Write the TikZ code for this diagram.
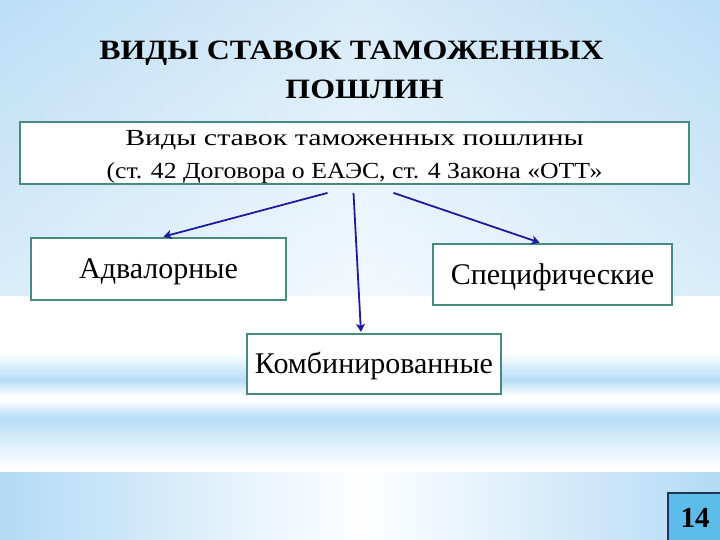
\documentclass[tikz,border=0pt]{standalone}
\usepackage{fontspec}
\setmainfont{Liberation Serif}
\newfontfamily\titlefont[FakeStretch=1.14]{Liberation Serif}
\newfontfamily\headfont[FakeStretch=1.30]{Liberation Serif}
\newfontfamily\subfont[FakeStretch=1.12]{Liberation Serif}
\usetikzlibrary{arrows.meta, positioning}

\definecolor{bgtop}{HTML}{C3E1F6}
\definecolor{bgmid}{HTML}{EEF7FD}
\definecolor{bgside}{HTML}{B3DAF5}
\definecolor{bandblue}{HTML}{B7DDF6}
\definecolor{boxline}{HTML}{468A80}
\definecolor{arrowblue}{HTML}{1C1C9C}
\definecolor{numfill}{HTML}{5CBCE9}
\definecolor{numline}{HTML}{1F3550}

\begin{document}
\begin{tikzpicture}[
  x=1pt, y=-1pt,
  >=Latex,
  box/.style={
    rectangle,
    draw=boxline, line width=1.8pt,
    fill=white,
    inner sep=0pt,
    align=center,
    font=\fontsize{30}{33}\selectfont
  },
  leaf/.style={box, text height=20pt, text depth=0pt},
  arrow/.style={draw=arrowblue, line width=1.8pt, shorten >=1pt,
    {-Stealth[length=8pt, width=9pt, inset=2pt]}}
]
\useasboundingbox (0,0) rectangle (720,540);

% Background
\shade[top color=bgtop, bottom color=bgmid] (0,0) rectangle (720,296);
\shade[left color=bgside, right color=bgside, middle color=white, opacity=0.35] (0,0) rectangle (720,296);
\fill[white] (0,296) rectangle (720,472);
\shade[top color=white, bottom color=bandblue] (0,352) rectangle (720,380);
\shade[top color=bandblue, bottom color=white] (0,380) rectangle (720,396);
\shade[top color=white, bottom color=bandblue] (0,400) rectangle (720,418);
\shade[top color=bandblue, bottom color=white] (0,418) rectangle (720,468);
\shade[left color=bgside, right color=bgside, middle color=white] (0,472) rectangle (720,540);

% Title
\node[align=center, font=\titlefont\bfseries\fontsize{28}{39}\selectfont] (title) at (358,70)
  {ВИДЫ СТАВОК ТАМОЖЕННЫХ\hspace*{13pt}\\\hspace*{13pt}ПОШЛИН};

% Boxes
\node[box, minimum width=669pt, minimum height=62pt,
  font=\fontsize{23}{33}\selectfont] (main) at (354.5,153) {%
\rule{0pt}{23.5pt}{\headfont Виды ставок таможенных пошлины}\\
{\subfont (ст. 42 Договора о ЕАЭС, ст. 4 Закона «ОТТ»}%
};

\node[leaf, minimum width=255pt, minimum height=62pt, below=52pt of main, xshift=-196pt] (adv) {Адвалорные};
\node[leaf, minimum width=239pt, minimum height=61pt, below=58pt of main, xshift=198pt] (spec) {Специфические};
\node[leaf, minimum width=254pt, minimum height=60pt, below=148pt of main, xshift=19.5pt] (komb) {Комбинированные};

% Page number
\node[rectangle, draw=numline, line width=2pt, fill=numfill, minimum width=54pt,
  minimum height=50pt, font=\bfseries\fontsize{29}{30}\selectfont] (pagenum) at (695,518) {14};

% Arrows
\coordinate (fromA) at ([xshift=-27pt, yshift=-8pt]main.south);
\coordinate (fromK) at ([xshift=-1pt, yshift=-8pt]main.south);
\coordinate (fromS) at ([xshift=39pt, yshift=-8pt]main.south);
\draw[arrow] (fromA) -- ([xshift=4pt]adv.north);
\draw[arrow] (fromK) -- ([xshift=-13pt]komb.north);
\draw[arrow] (fromS) -- ([xshift=-12pt]spec.north);

\end{tikzpicture}
\end{document}
